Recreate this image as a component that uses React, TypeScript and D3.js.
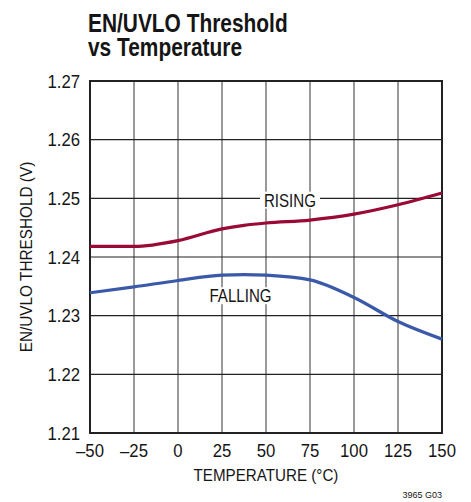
import { useEffect, useRef } from 'react';
import * as d3 from 'd3';

const temps = [-50, -25, 0, 25, 37.5, 50, 75, 100, 125, 150];
const rising = [1.2418, 1.2418, 1.2428, 1.2448, 1.2454, 1.2458, 1.2463, 1.2473, 1.2489, 1.2509];
const falling = [1.2339, 1.2349, 1.236, 1.2369, 1.237, 1.2369, 1.2361, 1.2331, 1.229, 1.226];
const xTicks = [-50, -25, 0, 25, 50, 75, 100, 125, 150];
const yTicks = [1.21, 1.22, 1.23, 1.24, 1.25, 1.26, 1.27];

const FONT = '"Liberation Sans", Arial, Helvetica, sans-serif';

type Sel = d3.Selection<any, unknown, null, undefined>;

// Helvetica-condensed look: draw text then squeeze it horizontally
function label(parent: Sel, x: number, y: number, text: string, size: number, sx: number,
  anchor = 'start', weight = '400') {
  return parent.append('text')
    .attr('transform', `translate(${x},${y}) scale(${sx},1)`)
    .attr('text-anchor', anchor)
    .attr('font-family', FONT)
    .attr('font-size', `${size}px`)
    .attr('font-weight', weight)
    .attr('fill', '#151515')
    .text(text);
}

export default function App() {
  const svgRef = useRef<SVGSVGElement>(null);

  useEffect(() => {
    if (!svgRef.current) return;
    const width = 471;
    const height = 502;
    const margin = { top: 81, right: 29, bottom: 69, left: 90 };
    const innerW = width - margin.left - margin.right;
    const innerH = height - margin.top - margin.bottom;

    const svg = d3.select(svgRef.current);
    svg.selectAll('*').remove();
    svg.attr('width', width).attr('height', height);

    svg.append('rect').attr('width', width).attr('height', height).attr('fill', '#fff');

    // Title
    label(svg as Sel, 88, 32, 'EN/UVLO Threshold', 25.5, 0.82, 'start', '700');
    label(svg as Sel, 88, 56, 'vs Temperature', 25.5, 0.82, 'start', '700');

    const g = svg.append('g').attr('transform', `translate(${margin.left},${margin.top})`) as Sel;

    const x = d3.scaleLinear().domain([-50, 150]).range([0, innerW]);
    const y = d3.scaleLinear().domain([1.21, 1.27]).range([innerH, 0]);

    // Gridlines
    g.append('g')
      .selectAll('line')
      .data(xTicks)
      .join('line')
      .attr('x1', d => x(d)).attr('x2', d => x(d))
      .attr('y1', 0).attr('y2', innerH)
      .attr('stroke', '#555')
      .attr('stroke-width', 1.2);
    g.append('g')
      .selectAll('line')
      .data(yTicks)
      .join('line')
      .attr('x1', 0).attr('x2', innerW)
      .attr('y1', d => y(d)).attr('y2', d => y(d))
      .attr('stroke', '#222')
      .attr('stroke-width', 1.2);

    // Frame
    g.append('rect')
      .attr('width', innerW)
      .attr('height', innerH)
      .attr('fill', 'none')
      .attr('stroke', '#222')
      .attr('stroke-width', 2);

    // Tick labels
    const yFmt = d3.format('.2f');
    yTicks.forEach(t => label(g, -10, y(t) + 6.5, yFmt(t), 18, 0.93, 'end'));
    xTicks.forEach(t => label(g, x(t), innerH + 24,
      t < 0 ? `\u2013${Math.abs(t)}` : `${t}`, 18, 0.93, 'middle'));

    // Axis titles
    label(svg as Sel, margin.left + innerW / 2, 481, 'TEMPERATURE (°C)', 16.5, 0.92, 'middle');
    label(svg as Sel, 0, 0, 'EN/UVLO THRESHOLD (V)', 16.5, 0.93, 'middle')
      .attr('transform', `translate(32,${margin.top + innerH / 2}) rotate(-90) scale(0.93,1)`);
    label(svg as Sel, 442, 498, '3965 G03', 9.5, 0.95, 'end');

    // Curves
    const line = d3.line<number>()
      .x((_, i) => x(temps[i]))
      .y(d => y(d))
      .curve(d3.curveMonotoneX);

    g.append('path')
      .attr('d', line(rising))
      .attr('fill', 'none')
      .attr('stroke', '#9a0a36')
      .attr('stroke-width', 3.2);

    g.append('path')
      .attr('d', line(falling))
      .attr('fill', 'none')
      .attr('stroke', '#3a59a8')
      .attr('stroke-width', 3.2);

    // Curve labels with white knockouts over the grid
    const labels = [
      { text: 'RISING', t: 63.6, v: 1.2497 },
      { text: 'FALLING', t: 35.5, v: 1.2334 },
    ];
    labels.forEach(l => {
      const cx = x(l.t);
      const cy = y(l.v);
      const tx = label(g, cx, cy + 6.5, l.text, 18, 0.84, 'middle');
      const w = (tx.node() as SVGTextElement).getComputedTextLength() * 0.84;
      g.insert('rect', () => tx.node() as SVGTextElement)
        .attr('x', cx - w / 2 - 4)
        .attr('y', cy - 8.5)
        .attr('width', w + 8)
        .attr('height', 17)
        .attr('fill', '#fff');
    });
  }, []);

  return (
    <div style={{ position: 'absolute', left: 0, top: 0 }}>
      <svg ref={svgRef} style={{ display: 'block' }} />
    </div>
  );
}
